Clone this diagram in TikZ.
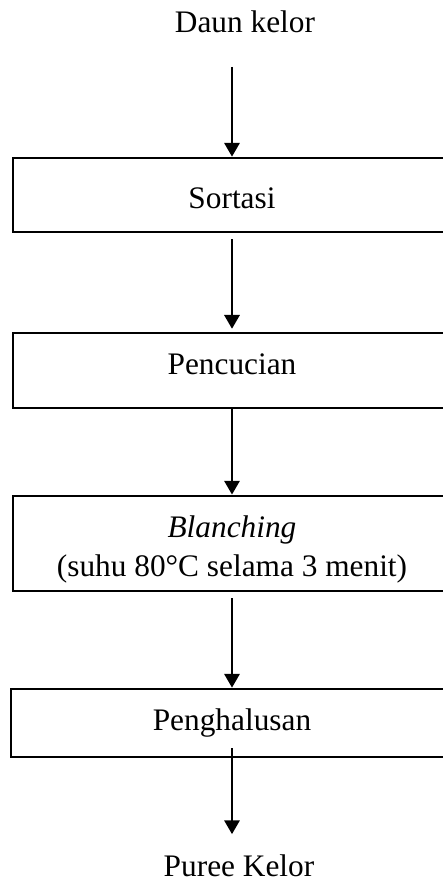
\documentclass[tikz,border=0pt]{standalone}
\usepackage{fontspec}
\setmainfont{Liberation Serif}
\usetikzlibrary{arrows.meta}
\begin{document}
\begin{tikzpicture}[x=0.383pt,y=-0.383pt,
  font=\fontsize{12pt}{14.9pt}\selectfont,
  every node/.style={inner sep=0pt},
  procbox/.style={draw,line width=1.05pt,minimum width=167.8pt,text depth=0pt},
  arr/.style={line width=1.05pt,-{Triangle[width=5.8pt,length=5.3pt]}},
  lbl/.style={anchor=base}]
\fill[white] (0,0) rectangle (443,879);
\useasboundingbox (0,0) rectangle (443,879);
\node[lbl] (daun) at (245,32) {Daun kelor};
\node[procbox, minimum height=28.3pt, text height=10.7pt] (sortasi) at (232,195) {Sortasi};
\node[procbox, minimum height=28.7pt, text height=3.4pt] (pencucian) at (232,370.5) {Pencucian};
\node[procbox, minimum height=36.4pt, text height=24.9pt] (blanching) at (232,543.5)
  {\begin{tabular}[b]{@{}c@{}}\textit{Blanching}\\(suhu 80°C selama 3 menit)\end{tabular}};
\node[procbox, minimum width=169.3pt, minimum height=26pt, text height=6.1pt] (penghalusan) at (232,723) {Penghalusan};
\node[lbl] (puree) at (239,876) {Puree Kelor};
\draw[arr, shorten <=13pt] (daun.south -| sortasi.north) -- (sortasi.north);
\draw[arr, shorten <=2.3pt, shorten >=1.1pt] (sortasi) -- (pencucian);
\draw[arr] (pencucian) -- (blanching);
\draw[arr, shorten <=2.3pt] (blanching) -- (penghalusan);
\draw[arr, shorten <=-3.8pt, shorten >=7.5pt] (penghalusan.south) -- (penghalusan.south |- puree.north);
\end{tikzpicture}
\end{document}
